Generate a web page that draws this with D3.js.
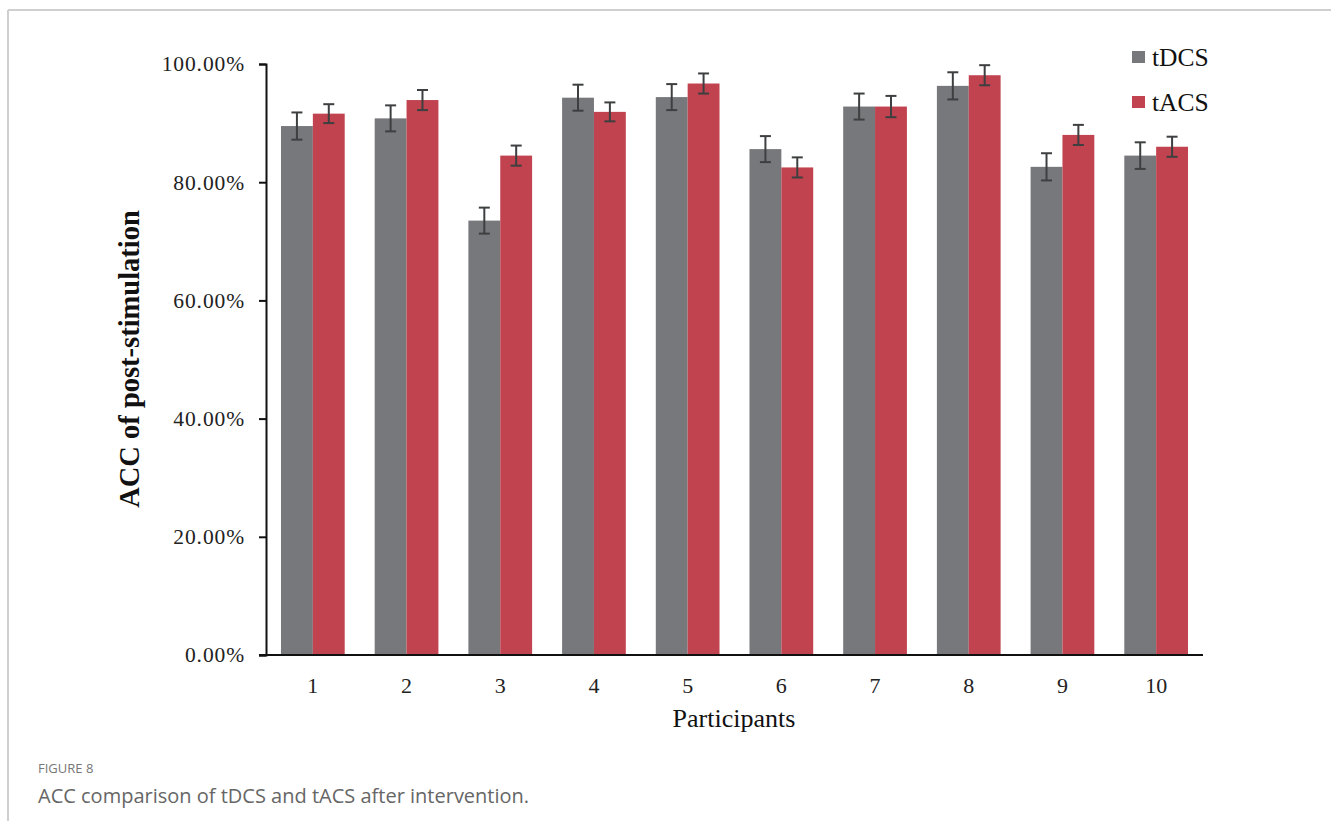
<!DOCTYPE html>
<html>
<head>
<meta charset="utf-8">
<script src="https://cdn.jsdelivr.net/npm/d3@7"></script>
<style>
  html, body { margin: 0; padding: 0; background: #fff; }
  svg { display: block; }
</style>
</head>
<body>
<svg id="chart" width="1331" height="821"></svg>
<script>
// Participants and post-stimulation accuracy (%) per condition
const participants = ["1", "2", "3", "4", "5", "6", "7", "8", "9", "10"];
const seriesNames = ["tDCS", "tACS"];
const tdcsValues = [89.5, 90.8, 73.5, 94.3, 94.4, 85.6, 92.8, 96.3, 82.6, 84.5];
const tacsValues = [91.6, 93.9, 84.5, 91.9, 96.7, 82.5, 92.8, 98.1, 88.0, 86.0];
const tdcsErrors = [2.3, 2.2, 2.2, 2.2, 2.2, 2.2, 2.2, 2.3, 2.3, 2.25];
const tacsErrors = [1.6, 1.7, 1.7, 1.6, 1.7, 1.7, 1.8, 1.7, 1.7, 1.7];
const yTicks = [0, 20, 40, 60, 80, 100];
const seriesColors = ["#77787c", "#c1434f"];

const svg = d3.select("#chart");

// page frame
svg.append("line").attr("x1", 8).attr("y1", 10).attr("x2", 1331).attr("y2", 10)
  .attr("stroke", "#cfcfcf").attr("stroke-width", 2);
svg.append("line").attr("x1", 8).attr("y1", 10).attr("x2", 8).attr("y2", 821)
  .attr("stroke", "#cfcfcf").attr("stroke-width", 2);

const plot = { left: 266, right: 1203, top: 64, bottom: 655 };

const x = d3.scaleBand().domain(participants)
  .range([plot.left, plot.right]).paddingInner(0.32).paddingOuter(0.16);
const xs = d3.scaleBand().domain(seriesNames).range([0, x.bandwidth()]);
const y = d3.scaleLinear().domain([0, 100]).range([plot.bottom, plot.top]);

const rows = participants.map((p, i) => ({
  p,
  vals: [
    { s: "tDCS", v: tdcsValues[i], e: tdcsErrors[i] },
    { s: "tACS", v: tacsValues[i], e: tacsErrors[i] }
  ]
}));

const color = d3.scaleOrdinal().domain(seriesNames).range(seriesColors);

const groups = svg.append("g").selectAll("g").data(rows).join("g")
  .attr("transform", d => `translate(${x(d.p)},0)`);

groups.selectAll("rect").data(d => d.vals).join("rect")
  .attr("x", d => xs(d.s))
  .attr("width", xs.bandwidth())
  .attr("y", d => y(d.v))
  .attr("height", d => y(0) - y(d.v))
  .attr("fill", d => color(d.s));

// error bars
const eb = groups.selectAll("g.err").data(d => d.vals).join("g").attr("class", "err")
  .attr("stroke", "#3d3f40").attr("stroke-width", 2);
const cx = d => xs(d.s) + xs.bandwidth() / 2;
eb.append("line")
  .attr("x1", cx).attr("x2", cx)
  .attr("y1", d => y(d.v + d.e)).attr("y2", d => y(d.v - d.e));
eb.append("line")
  .attr("x1", d => cx(d) - 5.5).attr("x2", d => cx(d) + 5.5)
  .attr("y1", d => y(d.v + d.e)).attr("y2", d => y(d.v + d.e));
eb.append("line")
  .attr("x1", d => cx(d) - 5.5).attr("x2", d => cx(d) + 5.5)
  .attr("y1", d => y(d.v - d.e)).attr("y2", d => y(d.v - d.e));

// y axis
const yAxis = svg.append("g").attr("transform", `translate(${plot.left},0)`)
  .call(d3.axisLeft(y).tickValues(yTicks).tickSize(7).tickPadding(14)
    .tickFormat(d => d3.format(".2f")(d) + "%"));
yAxis.select(".domain").attr("stroke", "#111").attr("stroke-width", 2);
yAxis.selectAll(".tick line").attr("stroke", "#111").attr("stroke-width", 2);
yAxis.selectAll("text").attr("font-family", "'Liberation Serif', serif")
  .attr("font-size", 21.5).attr("fill", "#222").attr("letter-spacing", "0.9px");

// x axis
const xAxis = svg.append("g").attr("transform", `translate(0,${plot.bottom})`)
  .call(d3.axisBottom(x).tickSize(0).tickPadding(22));
xAxis.select(".domain").attr("stroke", "#111").attr("stroke-width", 2)
  .attr("d", `M${plot.left - 7},0H${plot.right}`);
xAxis.selectAll("text").attr("font-family", "'Liberation Serif', serif")
  .attr("font-size", 22).attr("fill", "#222");

// axis titles
svg.append("text")
  .attr("transform", `translate(139,359) rotate(-90)`)
  .attr("text-anchor", "middle")
  .attr("font-family", "'Liberation Serif', serif")
  .attr("font-weight", "bold").attr("font-size", 28.5).attr("fill", "#111")
  .text("ACC of post-stimulation");
svg.append("text")
  .attr("x", 734).attr("y", 727)
  .attr("text-anchor", "middle")
  .attr("font-family", "'Liberation Serif', serif")
  .attr("font-size", 26).attr("fill", "#111")
  .text("Participants");

// legend
const legend = svg.append("g").selectAll("g").data(seriesNames).join("g")
  .attr("transform", (d, i) => `translate(1132,${51 + i * 45})`);
legend.append("rect").attr("width", 13).attr("height", 12).attr("fill", d => color(d));
legend.append("text").attr("x", 20).attr("y", 15)
  .attr("font-family", "'Liberation Serif', serif").attr("font-size", 25.5).attr("fill", "#111")
  .text(d => d);

// caption
svg.append("text").attr("x", 38).attr("y", 773)
  .attr("font-family", "'Open Sans', sans-serif").attr("font-size", 13)
  .attr("fill", "#777").text("FIGURE 8");
svg.append("text").attr("x", 38).attr("y", 803)
  .attr("font-family", "'Open Sans', sans-serif").attr("font-size", 20)
  .attr("fill", "#666").text("ACC comparison of tDCS and tACS after intervention.");
</script>
</body>
</html>
